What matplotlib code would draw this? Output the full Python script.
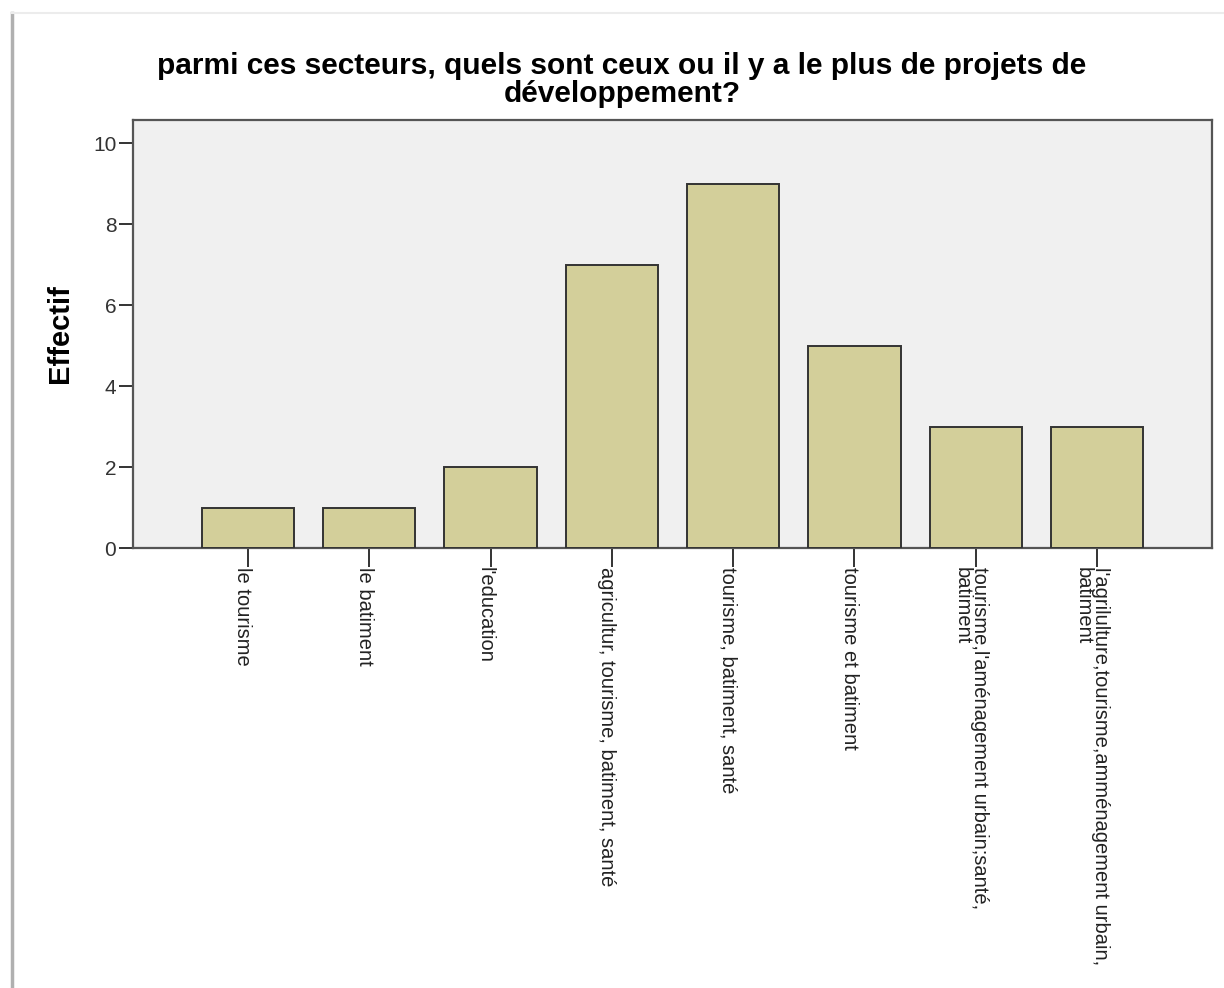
import numpy as np
import matplotlib.pyplot as plt
import matplotlib.transforms as mtransforms
from matplotlib.lines import Line2D

plt.rcParams['font.family'] = ['Liberation Sans', 'DejaVu Sans']

categories = [
    "le tourisme",
    "le batiment",
    "l'education",
    "agricultur, tourisme, batiment, santé",
    "tourisme, batiment, santé",
    "tourisme et batiment",
    "tourisme,l'aménagement urbain;santé,\nbatiment",
    "l'agrilulture,tourisme,amménagement urbain,\nbatiment",
]
counts = [1, 1, 2, 7, 9, 5, 3, 3]
yticks = [0, 2, 4, 6, 8, 10]

fig = plt.figure(figsize=(12.24, 9.88), dpi=100)
fig.patch.set_facecolor('white')

# frame edges of the output window
fig.add_artist(Line2D([12/1224, 12/1224], [0, 1 - 13/988], transform=fig.transFigure,
                      color='#b0b0b0', lw=2.5))
fig.add_artist(Line2D([12/1224, 1], [1 - 13/988, 1 - 13/988], transform=fig.transFigure,
                      color='#ececec', lw=1.5))

ax = fig.add_axes([133/1224, 1 - 548/988, (1212 - 133)/1224, (548 - 120)/988])
ax.set_facecolor('#f0f0f0')

x = np.arange(len(categories))
ax.bar(x, counts, width=0.76, color='#d3cf9a', edgecolor='#333333', linewidth=1.4, zorder=3)

ax.set_xlim(-0.948, len(categories) - 1 + 0.948)
ax.set_ylim(0, 10.57)
ax.set_yticks(yticks)
ax.set_yticklabels([str(v) for v in yticks], fontsize=15, color='#333333')
ax.set_xticks(x)
ax.set_xticklabels(categories, rotation=-90, fontsize=14.5, color='#222222',
                   ha='center', va='top', multialignment='left', linespacing=0.92)

ax.tick_params(axis='y', direction='out', length=10, width=1.4, color='#333333', pad=2)
ax.tick_params(axis='x', direction='out', length=14, width=1.4, color='#333333', pad=0)

# nudge category labels a little left of their ticks
offset = mtransforms.ScaledTranslation(-5/100, 0, fig.dpi_scale_trans)
for lbl in ax.get_xticklabels():
    lbl.set_transform(lbl.get_transform() + offset)

for s in ax.spines.values():
    s.set_color('#555555')
    s.set_linewidth(1.6)

ax.set_ylabel('Effectif', fontsize=21, fontweight='bold')
ax.yaxis.set_label_coords(-0.0547, 0.5)

fig.text(622/1224, 1 - 80/988,
         "parmi ces secteurs, quels sont ceux ou il y a le plus de projets de\ndéveloppement?",
         ha='center', va='center', fontsize=21.5, fontweight='bold', linespacing=0.98)

fig.savefig('out.png', dpi=100)
